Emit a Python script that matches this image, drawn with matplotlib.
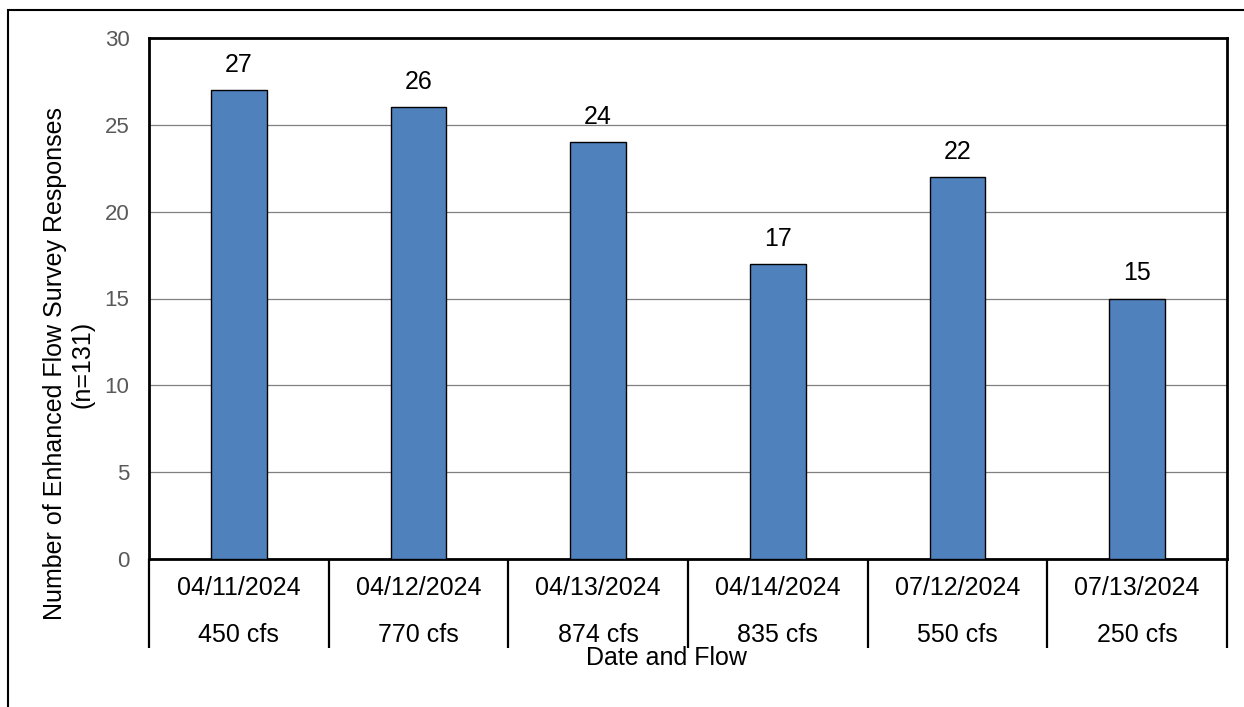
import numpy as np
import matplotlib.pyplot as plt
from matplotlib.patches import Rectangle

plt.rcParams['font.family'] = ['Liberation Sans', 'DejaVu Sans']

dates = ['04/11/2024', '04/12/2024', '04/13/2024', '04/14/2024', '07/12/2024', '07/13/2024']
flows = ['450 cfs', '770 cfs', '874 cfs', '835 cfs', '550 cfs', '250 cfs']
responses = [27, 26, 24, 17, 22, 15]

W, H = 1244, 707
fig = plt.figure(figsize=(W / 100, H / 100), dpi=100)

# outer chart border (only top and left are visible in the crop)
fig.patches.append(Rectangle((8 / W, -0.1), 1.2, (H - 10) / H + 0.1, transform=fig.transFigure,
                             fill=False, edgecolor='black', linewidth=1.5))

ax = fig.add_axes([149 / W, 1 - 559 / H, (1227 - 149) / W, (559 - 38) / H])
x = np.arange(len(responses))
bars = ax.bar(x, responses, width=0.31, color='#4F81BD', edgecolor='black', linewidth=1, zorder=3)

ax.set_xlim(-0.5, len(responses) - 0.5)
ax.set_ylim(0, 30)
ax.set_yticks(range(0, 31, 5))
ax.yaxis.grid(True, color='#808080', linewidth=0.9, zorder=0)
ax.tick_params(axis='y', length=0, labelsize=16, labelcolor='#595959', pad=14)
for s in ax.spines.values():
    s.set_linewidth(2)
    s.set_color('black')

for xi, v in zip(x, responses):
    ax.annotate(str(v), (xi, v), xytext=(0, 18), textcoords='offset points',
                ha='center', va='center', fontsize=18)

# category table below the plot
ax.set_xticks([])
ax.set_xticks(np.arange(-0.5, len(responses)), minor=True)
ax.tick_params(axis='x', which='minor', length=64, width=1.6, color='black', direction='out')
tr = ax.get_xaxis_transform()
ax_h = 559 - 38
for xi, d, f in zip(x, dates, flows):
    ax.text(xi, -(588 - 559) / ax_h, d, transform=tr, ha='center', va='center', fontsize=18)
    ax.text(xi, -(635 - 559) / ax_h, f, transform=tr, ha='center', va='center', fontsize=18)

fig.text(666 / W, 1 - 658 / H, 'Date and Flow', ha='center', va='center', fontsize=18)
fig.text(69 / W, 1 - 364 / H, 'Number of Enhanced Flow Survey Responses\n(n=131)',
         rotation=90, ha='center', va='center', fontsize=18, linespacing=1.2)

fig.savefig('out.png', dpi=100)
